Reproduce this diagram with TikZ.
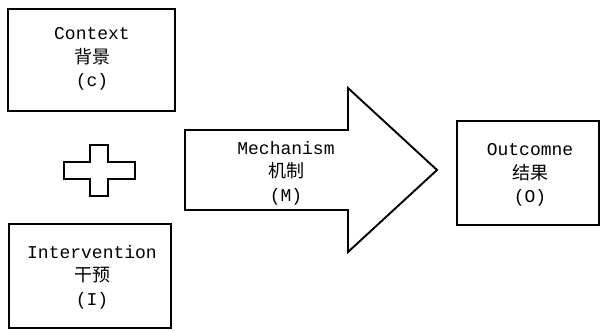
\documentclass[tikz,border=0pt]{standalone}
\usepackage{fontspec}
\newfontfamily\latinmono{Liberation Mono}
\newfontfamily\cjk{Noto Sans CJK SC}
\tikzset{
  frame/.style={draw=black, line width=1.9pt},
  label3/.style={align=center, inner sep=0pt, font=\fontsize{18}{23.5}\selectfont\latinmono},
}
\begin{document}
\begin{tikzpicture}[x=1pt, y=-1pt]
\useasboundingbox (0,0) rectangle (601,330);
% boxes
\draw[frame] (8,9) rectangle (175,111);
\node[label3] (ctx) at (92,59) {Context\\{\cjk 背景}\\(c)};
\draw[frame] (9,224) rectangle (171,328);
\node[label3] (int) at (92,277) {Intervention\\{\cjk 干预}\\(I)};
\draw[frame] (457,121) rectangle (599,225);
\node[label3] (out) at (530,175) {Outcomne\\{\cjk 结果}\\(O)};
% plus sign
\draw[frame] (90,145) -- (108,145) -- (108,162) -- (135,162) -- (135,179) -- (108,179)
  -- (108,196) -- (90,196) -- (90,179) -- (64,179) -- (64,162) -- (90,162) -- cycle;
% arrow
\coordinate (tip) at (437,170);
\draw[frame] (185,130) -- (348,130) -- (348,88) -- (tip) -- (348,252) -- (348,210)
  -- (185,210) -- cycle;
\node[label3] (mech) at (286,173) {Mechanism\\{\cjk 机制}\\(M)};
\end{tikzpicture}
\end{document}
